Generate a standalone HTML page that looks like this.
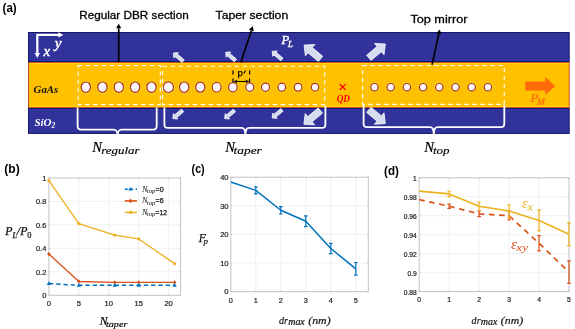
<!DOCTYPE html>
<html><head><meta charset="utf-8"><style>
html,body{margin:0;padding:0;background:#fff;}
svg{display:block;will-change:transform;}
text{font-family:"Liberation Sans", sans-serif;}
.m{font-family:"Liberation Serif", serif;font-style:italic;}
</style></head><body>
<svg width="575" height="329" viewBox="0 0 575 329">

<text x="2.6" y="12.2" font-size="12.8" font-weight="bold" fill="#000" textLength="14.1" lengthAdjust="spacingAndGlyphs">(a)</text>
<rect x="28.5" y="32.5" width="540.7" height="29" fill="#32339a" stroke="#15156a" stroke-width="1"/>
<rect x="28.5" y="108.5" width="540.7" height="24.9" fill="#32339a" stroke="#15156a" stroke-width="1"/>
<rect x="28.4" y="62.4" width="540.8" height="45.2" fill="#ffc000" stroke="#b8281a" stroke-width="0.8"/>
<line x1="29" y1="63.45" x2="568.6" y2="63.45" stroke="#ffd81a" stroke-width="0.9"/>
<line x1="29" y1="106.55" x2="568.6" y2="106.55" stroke="#ffd81a" stroke-width="0.9"/>
<line x1="29" y1="60.4" x2="568.6" y2="60.4" stroke="#2a3ab0" stroke-width="0.8"/>
<line x1="29" y1="109.6" x2="568.6" y2="109.6" stroke="#2a3ab0" stroke-width="0.8"/>
<ellipse cx="85.85" cy="87.20" rx="5.90" ry="6.45" fill="none" stroke="#ffd21a" stroke-width="1"/>
<ellipse cx="85.85" cy="87.20" rx="4.65" ry="5.20" fill="#fbf8ff" stroke="#a83228" stroke-width="1.2"/>
<ellipse cx="102.40" cy="87.20" rx="5.90" ry="6.45" fill="none" stroke="#ffd21a" stroke-width="1"/>
<ellipse cx="102.40" cy="87.20" rx="4.65" ry="5.20" fill="#fbf8ff" stroke="#a83228" stroke-width="1.2"/>
<ellipse cx="118.80" cy="87.20" rx="5.90" ry="6.45" fill="none" stroke="#ffd21a" stroke-width="1"/>
<ellipse cx="118.80" cy="87.20" rx="4.65" ry="5.20" fill="#fbf8ff" stroke="#a83228" stroke-width="1.2"/>
<ellipse cx="135.10" cy="87.20" rx="5.90" ry="6.45" fill="none" stroke="#ffd21a" stroke-width="1"/>
<ellipse cx="135.10" cy="87.20" rx="4.65" ry="5.20" fill="#fbf8ff" stroke="#a83228" stroke-width="1.2"/>
<ellipse cx="151.50" cy="87.20" rx="5.90" ry="6.45" fill="none" stroke="#ffd21a" stroke-width="1"/>
<ellipse cx="151.50" cy="87.20" rx="4.65" ry="5.20" fill="#fbf8ff" stroke="#a83228" stroke-width="1.2"/>
<ellipse cx="168.40" cy="87.20" rx="6.35" ry="6.55" fill="none" stroke="#ffd21a" stroke-width="1"/>
<ellipse cx="168.40" cy="87.20" rx="5.10" ry="5.30" fill="#fbf8ff" stroke="#a83228" stroke-width="1.2"/>
<ellipse cx="184.20" cy="87.20" rx="5.95" ry="6.45" fill="none" stroke="#ffd21a" stroke-width="1"/>
<ellipse cx="184.20" cy="87.20" rx="4.70" ry="5.20" fill="#fbf8ff" stroke="#a83228" stroke-width="1.2"/>
<ellipse cx="200.30" cy="87.20" rx="5.85" ry="6.25" fill="none" stroke="#ffd21a" stroke-width="1"/>
<ellipse cx="200.30" cy="87.20" rx="4.60" ry="5.00" fill="#fbf8ff" stroke="#a83228" stroke-width="1.2"/>
<ellipse cx="216.60" cy="87.20" rx="5.65" ry="6.05" fill="none" stroke="#ffd21a" stroke-width="1"/>
<ellipse cx="216.60" cy="87.20" rx="4.40" ry="4.80" fill="#fbf8ff" stroke="#a83228" stroke-width="1.2"/>
<ellipse cx="232.90" cy="87.20" rx="5.55" ry="5.85" fill="none" stroke="#ffd21a" stroke-width="1"/>
<ellipse cx="232.90" cy="87.20" rx="4.30" ry="4.60" fill="#fbf8ff" stroke="#a83228" stroke-width="1.2"/>
<ellipse cx="249.80" cy="87.20" rx="5.25" ry="5.45" fill="none" stroke="#ffd21a" stroke-width="1"/>
<ellipse cx="249.80" cy="87.20" rx="4.00" ry="4.20" fill="#fbf8ff" stroke="#a83228" stroke-width="1.2"/>
<ellipse cx="265.50" cy="87.20" rx="5.25" ry="5.35" fill="none" stroke="#ffd21a" stroke-width="1"/>
<ellipse cx="265.50" cy="87.20" rx="4.00" ry="4.10" fill="#fbf8ff" stroke="#a83228" stroke-width="1.2"/>
<ellipse cx="281.80" cy="87.20" rx="5.05" ry="5.25" fill="none" stroke="#ffd21a" stroke-width="1"/>
<ellipse cx="281.80" cy="87.20" rx="3.80" ry="4.00" fill="#fbf8ff" stroke="#a83228" stroke-width="1.2"/>
<ellipse cx="298.10" cy="87.20" rx="5.05" ry="5.15" fill="none" stroke="#ffd21a" stroke-width="1"/>
<ellipse cx="298.10" cy="87.20" rx="3.80" ry="3.90" fill="#fbf8ff" stroke="#a83228" stroke-width="1.2"/>
<ellipse cx="315.00" cy="87.20" rx="4.95" ry="5.05" fill="none" stroke="#ffd21a" stroke-width="1"/>
<ellipse cx="315.00" cy="87.20" rx="3.70" ry="3.80" fill="#fbf8ff" stroke="#a83228" stroke-width="1.2"/>
<ellipse cx="374.50" cy="87.20" rx="4.95" ry="4.95" fill="none" stroke="#ffd21a" stroke-width="1"/>
<ellipse cx="374.50" cy="87.20" rx="3.70" ry="3.70" fill="#fbf8ff" stroke="#a83228" stroke-width="1.2"/>
<ellipse cx="390.70" cy="87.20" rx="4.95" ry="4.95" fill="none" stroke="#ffd21a" stroke-width="1"/>
<ellipse cx="390.70" cy="87.20" rx="3.70" ry="3.70" fill="#fbf8ff" stroke="#a83228" stroke-width="1.2"/>
<ellipse cx="406.90" cy="87.20" rx="4.95" ry="4.95" fill="none" stroke="#ffd21a" stroke-width="1"/>
<ellipse cx="406.90" cy="87.20" rx="3.70" ry="3.70" fill="#fbf8ff" stroke="#a83228" stroke-width="1.2"/>
<ellipse cx="423.10" cy="87.20" rx="4.95" ry="4.95" fill="none" stroke="#ffd21a" stroke-width="1"/>
<ellipse cx="423.10" cy="87.20" rx="3.70" ry="3.70" fill="#fbf8ff" stroke="#a83228" stroke-width="1.2"/>
<ellipse cx="439.30" cy="87.20" rx="4.95" ry="4.95" fill="none" stroke="#ffd21a" stroke-width="1"/>
<ellipse cx="439.30" cy="87.20" rx="3.70" ry="3.70" fill="#fbf8ff" stroke="#a83228" stroke-width="1.2"/>
<ellipse cx="455.50" cy="87.20" rx="4.95" ry="4.95" fill="none" stroke="#ffd21a" stroke-width="1"/>
<ellipse cx="455.50" cy="87.20" rx="3.70" ry="3.70" fill="#fbf8ff" stroke="#a83228" stroke-width="1.2"/>
<ellipse cx="471.70" cy="87.20" rx="4.95" ry="4.95" fill="none" stroke="#ffd21a" stroke-width="1"/>
<ellipse cx="471.70" cy="87.20" rx="3.70" ry="3.70" fill="#fbf8ff" stroke="#a83228" stroke-width="1.2"/>
<ellipse cx="487.90" cy="87.20" rx="4.95" ry="4.95" fill="none" stroke="#ffd21a" stroke-width="1"/>
<ellipse cx="487.90" cy="87.20" rx="3.70" ry="3.70" fill="#fbf8ff" stroke="#a83228" stroke-width="1.2"/>
<rect x="78.2" y="65.5" width="82.10000000000001" height="39.099999999999994" fill="none" stroke="#fff" stroke-width="1.1" stroke-dasharray="4.4 3.6"/>
<rect x="162.6" y="66.3" width="162.1" height="38.3" fill="none" stroke="#fff" stroke-width="1.1" stroke-dasharray="4.4 3.6"/>
<rect x="362.6" y="65.5" width="141.59999999999997" height="38.900000000000006" fill="none" stroke="#fff" stroke-width="1.1" stroke-dasharray="4.4 3.6"/>
<path d="M77.6,107.4 L77.6,126.1 Q77.6,129.6 81.1,129.6 L113.6,129.6 C116.39999999999999,129.6 117.6,131.1 117.6,137 M117.6,137 C117.6,131.1 118.8,129.6 121.6,129.6 L153.2,129.6 Q156.7,129.6 156.7,126.1 L156.7,107.4" fill="none" stroke="#fff" stroke-width="1.8"/>
<path d="M164.4,107.4 L164.4,124.4 Q164.4,127.9 167.9,127.9 L241.4,127.9 C244.20000000000002,127.9 245.4,129.4 245.4,137 M245.4,137 C245.4,129.4 246.6,127.9 249.4,127.9 L321.9,127.9 Q325.4,127.9 325.4,124.4 L325.4,106.0" fill="none" stroke="#fff" stroke-width="1.8"/>
<path d="M363.6,104.0 L363.6,123.7 Q363.6,127.2 367.1,127.2 L429.8,127.2 C432.6,127.2 433.8,128.7 433.8,137 M433.8,137 C433.8,128.7 435.0,127.2 437.8,127.2 L500.8,127.2 Q504.3,127.2 504.3,123.7 L504.3,104.8" fill="none" stroke="#fff" stroke-width="1.8"/>
<polygon points="173.40,53.00 178.41,52.63 177.25,54.01 184.22,59.86 182.04,62.47 175.07,56.62 173.91,58.00" fill="#d5dcee" stroke="#fbfcff" stroke-width="0.8" stroke-linejoin="miter"/>
<polygon points="225.70,52.30 230.71,51.93 229.55,53.31 236.52,59.16 234.34,61.77 227.37,55.92 226.21,57.30" fill="#d5dcee" stroke="#fbfcff" stroke-width="0.8" stroke-linejoin="miter"/>
<polygon points="272.20,51.30 277.21,50.93 276.05,52.31 283.02,58.16 280.84,60.77 273.87,54.92 272.71,56.30" fill="#d5dcee" stroke="#fbfcff" stroke-width="0.8" stroke-linejoin="miter"/>
<polygon points="172.90,118.60 173.41,113.60 174.57,114.98 181.54,109.13 183.72,111.74 176.75,117.59 177.91,118.97" fill="#d5dcee" stroke="#fbfcff" stroke-width="0.8" stroke-linejoin="miter"/>
<polygon points="224.70,118.60 225.21,113.60 226.37,114.98 233.34,109.13 235.52,111.74 228.55,117.59 229.71,118.97" fill="#d5dcee" stroke="#fbfcff" stroke-width="0.8" stroke-linejoin="miter"/>
<polygon points="272.20,118.00 272.71,113.00 273.87,114.38 280.84,108.53 283.02,111.14 276.05,116.99 277.21,118.37" fill="#d5dcee" stroke="#fbfcff" stroke-width="0.8" stroke-linejoin="miter"/>
<polygon points="304.10,45.10 314.91,44.51 312.34,47.57 322.76,56.32 318.38,61.52 307.97,52.78 305.40,55.85" fill="#d5dcee" stroke="#fbfcff" stroke-width="0.8" stroke-linejoin="miter"/>
<polygon points="385.30,44.00 384.00,54.75 381.43,51.68 371.02,60.42 366.64,55.22 377.06,46.47 374.49,43.41" fill="#d5dcee" stroke="#fbfcff" stroke-width="0.8" stroke-linejoin="miter"/>
<polygon points="303.90,124.30 305.20,113.55 307.77,116.62 318.18,107.88 322.56,113.08 312.14,121.83 314.71,124.89" fill="#d5dcee" stroke="#fbfcff" stroke-width="0.8" stroke-linejoin="miter"/>
<polygon points="385.30,123.60 374.49,124.19 377.06,121.13 366.64,112.38 371.02,107.18 381.43,115.92 384.00,112.85" fill="#d5dcee" stroke="#fbfcff" stroke-width="0.8" stroke-linejoin="miter"/>
<polygon points="525.2,81.6 545.3,81.6 545.3,76.9 555.3,86.0 545.3,95 545.3,90.6 525.2,90.6" fill="#ff6a0a"/>
<text x="530.6" y="101.5" class="m" font-size="12.8" fill="#ff6a0a" stroke="#ff6a0a" stroke-width="0.2">P</text>
<text x="536.9" y="104.8" class="m" font-size="9.6" fill="#ff6a0a" stroke="#ff6a0a" stroke-width="0.2">M</text>
<path d="M339.8,84.1 L345.5,89.8 M345.5,84.1 L339.8,89.8" stroke="#f00" stroke-width="1.3"/>
<text x="336.7" y="102.0" class="m" font-size="10.4" font-weight="bold" fill="#f00" textLength="13.3" lengthAdjust="spacingAndGlyphs">QD</text>
<text x="33.6" y="93.2" class="m" font-size="10.8" font-weight="bold" fill="#111">GaAs</text>
<text x="34.4" y="126" class="m" font-size="11" font-weight="bold" fill="#fff">SiO<tspan font-size="7.5" dy="2">2</tspan></text>
<path d="M37.3,34.9 L37.3,54 M36.2,34.9 L59,34.9" stroke="#fff" stroke-width="2.2" fill="none"/>
<polygon points="34.6,53.0 40.0,53.0 37.3,58.0" fill="#fff"/>
<polygon points="58.4,32.2 58.4,37.6 63.4,34.9" fill="#fff"/>
<text x="43.6" y="55.7" class="m" font-size="15" fill="#fff" stroke="#fff" stroke-width="0.45">x</text>
<text x="54.8" y="48.2" class="m" font-size="15" fill="#fff" stroke="#fff" stroke-width="0.45">y</text>
<text x="281.4" y="43.6" class="m" font-size="12.6" fill="#fff" stroke="#fff" stroke-width="0.4">P</text>
<text x="288.0" y="46.6" class="m" font-size="8.6" fill="#fff" stroke="#fff" stroke-width="0.35">L</text>
<path d="M233.0,70.6 L233.0,82.5 M249.6,70.6 L249.6,82.5" stroke="#000" stroke-width="1.2" stroke-dasharray="3.8 4.2"/>
<path d="M235.5,81.5 L247.5,81.5" stroke="#000" stroke-width="1"/>
<polygon points="233.6,81.5 237.0,79.8 237.0,83.2" fill="#000"/>
<polygon points="249.2,81.5 245.8,79.8 245.8,83.2" fill="#000"/>
<text x="237.4" y="76.4" font-size="9.6" fill="#000" stroke="#000" stroke-width="0.25">p</text>
<path d="M245.6,70.6 L243.9,73.6" stroke="#000" stroke-width="1.1"/>
<text x="79.2" y="18.6" font-size="11.2" textLength="109.5" lengthAdjust="spacingAndGlyphs" fill="#000" stroke="#000" stroke-width="0.3">Regular DBR section</text>
<text x="215.6" y="19.4" font-size="11.5" textLength="72.6" lengthAdjust="spacingAndGlyphs" fill="#000" stroke="#000" stroke-width="0.3">Taper section</text>
<text x="410.4" y="22.7" font-size="11.7" textLength="57.1" lengthAdjust="spacingAndGlyphs" fill="#000" stroke="#000" stroke-width="0.3">Top mirror</text>
<line x1="118.7" y1="62" x2="118.70" y2="28.30" stroke="#000" stroke-width="1.7"/>
<polygon points="118.70,23.70 121.30,28.30 116.10,28.30" fill="#000"/>
<line x1="240.9" y1="62.3" x2="251.36" y2="30.67" stroke="#000" stroke-width="1.7"/>
<polygon points="252.80,26.30 253.82,31.48 248.89,29.85" fill="#000"/>
<line x1="432.1" y1="64.6" x2="438.82" y2="33.89" stroke="#000" stroke-width="1.7"/>
<polygon points="439.80,29.40 441.36,34.45 436.28,33.34" fill="#000"/>
<text x="92.35000000000001" y="152.4" class="m" font-size="14.6" fill="#000" stroke="#000" stroke-width="0.22">N</text>
<text x="101.3" y="154.20000000000002" class="m" font-size="11.3" fill="#000" textLength="38.3" lengthAdjust="spacingAndGlyphs" stroke="#000" stroke-width="0.18">regular</text>
<text x="225.35" y="152.4" class="m" font-size="14.6" fill="#000" stroke="#000" stroke-width="0.22">N</text>
<text x="233.6" y="154.20000000000002" class="m" font-size="11.3" fill="#000" textLength="28.2" lengthAdjust="spacingAndGlyphs" stroke="#000" stroke-width="0.18">taper</text>
<text x="424.34999999999997" y="152.4" class="m" font-size="14.6" fill="#000" stroke="#000" stroke-width="0.22">N</text>
<text x="433.0" y="154.20000000000002" class="m" font-size="11.3" fill="#000" textLength="16.6" lengthAdjust="spacingAndGlyphs" stroke="#000" stroke-width="0.18">top</text>
<text x="4.3" y="172.9" font-size="12.8" font-weight="bold" fill="#000" textLength="15.4" lengthAdjust="spacingAndGlyphs">(b)</text>
<line x1="78.83" y1="177.9" x2="78.83" y2="295.3" stroke="#eeeeee" stroke-width="0.8"/>
<line x1="108.76" y1="177.9" x2="108.76" y2="295.3" stroke="#eeeeee" stroke-width="0.8"/>
<line x1="138.70" y1="177.9" x2="138.70" y2="295.3" stroke="#eeeeee" stroke-width="0.8"/>
<line x1="168.63" y1="177.9" x2="168.63" y2="295.3" stroke="#eeeeee" stroke-width="0.8"/>
<line x1="48.9" y1="271.82" x2="180.6" y2="271.82" stroke="#eeeeee" stroke-width="0.8"/>
<line x1="48.9" y1="248.34" x2="180.6" y2="248.34" stroke="#eeeeee" stroke-width="0.8"/>
<line x1="48.9" y1="224.86" x2="180.6" y2="224.86" stroke="#eeeeee" stroke-width="0.8"/>
<line x1="48.9" y1="201.38" x2="180.6" y2="201.38" stroke="#eeeeee" stroke-width="0.8"/>
<rect x="48.9" y="177.9" width="131.7" height="117.4" fill="none" stroke="#c4c4c4" stroke-width="1"/>
<line x1="48.90" y1="295.3" x2="48.90" y2="293.8" stroke="#c4c4c4" stroke-width="0.8"/>
<line x1="48.90" y1="177.9" x2="48.90" y2="179.4" stroke="#c4c4c4" stroke-width="0.8"/>
<text x="48.90" y="305.8" font-size="7.6" text-anchor="middle" fill="#262626" stroke="#262626" stroke-width="0.22">0</text>
<line x1="78.83" y1="295.3" x2="78.83" y2="293.8" stroke="#c4c4c4" stroke-width="0.8"/>
<line x1="78.83" y1="177.9" x2="78.83" y2="179.4" stroke="#c4c4c4" stroke-width="0.8"/>
<text x="78.83" y="305.8" font-size="7.6" text-anchor="middle" fill="#262626" stroke="#262626" stroke-width="0.22">5</text>
<line x1="108.76" y1="295.3" x2="108.76" y2="293.8" stroke="#c4c4c4" stroke-width="0.8"/>
<line x1="108.76" y1="177.9" x2="108.76" y2="179.4" stroke="#c4c4c4" stroke-width="0.8"/>
<text x="108.76" y="305.8" font-size="7.6" text-anchor="middle" fill="#262626" stroke="#262626" stroke-width="0.22">10</text>
<line x1="138.70" y1="295.3" x2="138.70" y2="293.8" stroke="#c4c4c4" stroke-width="0.8"/>
<line x1="138.70" y1="177.9" x2="138.70" y2="179.4" stroke="#c4c4c4" stroke-width="0.8"/>
<text x="138.70" y="305.8" font-size="7.6" text-anchor="middle" fill="#262626" stroke="#262626" stroke-width="0.22">15</text>
<line x1="168.63" y1="295.3" x2="168.63" y2="293.8" stroke="#c4c4c4" stroke-width="0.8"/>
<line x1="168.63" y1="177.9" x2="168.63" y2="179.4" stroke="#c4c4c4" stroke-width="0.8"/>
<text x="168.63" y="305.8" font-size="7.6" text-anchor="middle" fill="#262626" stroke="#262626" stroke-width="0.22">20</text>
<line x1="48.9" y1="295.30" x2="50.4" y2="295.30" stroke="#c4c4c4" stroke-width="0.8"/>
<line x1="180.6" y1="295.30" x2="179.1" y2="295.30" stroke="#c4c4c4" stroke-width="0.8"/>
<text x="46.4" y="298.00" font-size="7.5" text-anchor="end" fill="#262626" stroke="#262626" stroke-width="0.22">0</text>
<line x1="48.9" y1="271.82" x2="50.4" y2="271.82" stroke="#c4c4c4" stroke-width="0.8"/>
<line x1="180.6" y1="271.82" x2="179.1" y2="271.82" stroke="#c4c4c4" stroke-width="0.8"/>
<text x="46.4" y="274.52" font-size="7.5" text-anchor="end" fill="#262626" stroke="#262626" stroke-width="0.22">0.2</text>
<line x1="48.9" y1="248.34" x2="50.4" y2="248.34" stroke="#c4c4c4" stroke-width="0.8"/>
<line x1="180.6" y1="248.34" x2="179.1" y2="248.34" stroke="#c4c4c4" stroke-width="0.8"/>
<text x="46.4" y="251.04" font-size="7.5" text-anchor="end" fill="#262626" stroke="#262626" stroke-width="0.22">0.4</text>
<line x1="48.9" y1="224.86" x2="50.4" y2="224.86" stroke="#c4c4c4" stroke-width="0.8"/>
<line x1="180.6" y1="224.86" x2="179.1" y2="224.86" stroke="#c4c4c4" stroke-width="0.8"/>
<text x="46.4" y="227.56" font-size="7.5" text-anchor="end" fill="#262626" stroke="#262626" stroke-width="0.22">0.6</text>
<line x1="48.9" y1="201.38" x2="50.4" y2="201.38" stroke="#c4c4c4" stroke-width="0.8"/>
<line x1="180.6" y1="201.38" x2="179.1" y2="201.38" stroke="#c4c4c4" stroke-width="0.8"/>
<text x="46.4" y="204.08" font-size="7.5" text-anchor="end" fill="#262626" stroke="#262626" stroke-width="0.22">0.8</text>
<line x1="48.9" y1="177.90" x2="50.4" y2="177.90" stroke="#c4c4c4" stroke-width="0.8"/>
<line x1="180.6" y1="177.90" x2="179.1" y2="177.90" stroke="#c4c4c4" stroke-width="0.8"/>
<text x="46.4" y="180.60" font-size="7.5" text-anchor="end" fill="#262626" stroke="#262626" stroke-width="0.22">1</text>
<polyline points="48.90,180.72 78.83,223.69 114.75,235.07 138.70,238.95 174.61,263.60" fill="none" stroke="#edb120" stroke-width="1.35" stroke-linejoin="round"/>
<circle cx="48.90" cy="180.72" r="1.6" fill="#edb120"/>
<circle cx="78.83" cy="223.69" r="1.6" fill="#edb120"/>
<circle cx="114.75" cy="235.07" r="1.6" fill="#edb120"/>
<circle cx="138.70" cy="238.95" r="1.6" fill="#edb120"/>
<circle cx="174.61" cy="263.60" r="1.6" fill="#edb120"/>
<polyline points="48.90,254.09 78.83,281.45 114.75,282.39 138.70,282.39 174.61,282.39" fill="none" stroke="#d95319" stroke-width="1.4" stroke-linejoin="round"/>
<polygon points="48.90,251.89 50.70,254.09 48.90,256.29 47.10,254.09" fill="#d95319"/>
<polygon points="78.83,279.25 80.63,281.45 78.83,283.65 77.03,281.45" fill="#d95319"/>
<polygon points="114.75,280.19 116.55,282.39 114.75,284.59 112.95,282.39" fill="#d95319"/>
<polygon points="138.70,280.19 140.50,282.39 138.70,284.59 136.90,282.39" fill="#d95319"/>
<polygon points="174.61,280.19 176.41,282.39 174.61,284.59 172.81,282.39" fill="#d95319"/>
<polyline points="48.90,283.56 78.83,285.32 114.75,285.32 138.70,285.32 174.61,285.32" fill="none" stroke="#0072bd" stroke-width="1.45" stroke-dasharray="4.4 2.9" stroke-linejoin="round"/>
<polygon points="48.90,281.36 51.10,284.96 46.70,284.96" fill="#0072bd"/>
<polygon points="78.83,283.12 81.03,286.72 76.63,286.72" fill="#0072bd"/>
<polygon points="114.75,283.12 116.95,286.72 112.55,286.72" fill="#0072bd"/>
<polygon points="138.70,283.12 140.90,286.72 136.50,286.72" fill="#0072bd"/>
<polygon points="174.61,283.12 176.81,286.72 172.41,286.72" fill="#0072bd"/>
<line x1="124.5" y1="201.38" x2="168" y2="201.38" stroke="#fff" stroke-width="1.2"/>
<line x1="138.70" y1="196" x2="138.70" y2="207" stroke="#eeeeee" stroke-width="0.8"/>
<line x1="124.8" y1="189.2" x2="137" y2="189.2" stroke="#0072bd" stroke-width="1.5" stroke-dasharray="3 2.4"/>
<polygon points="130.4,186.89999999999998 132.7,190.5 128.1,190.5" fill="#0072bd"/>
<text x="141.9" y="191.50" class="m" font-size="8.3" fill="#111">N</text>
<text x="146.8" y="193.10" class="m" font-size="6.6" fill="#111" textLength="8.6" lengthAdjust="spacingAndGlyphs">top</text>
<text x="155.6" y="191.50" font-size="7.6" fill="#111" stroke="#111" stroke-width="0.25" textLength="8.0" lengthAdjust="spacingAndGlyphs">=0</text>
<line x1="124.8" y1="200.9" x2="137" y2="200.9" stroke="#d95319" stroke-width="1.6"/>
<polygon points="130.6,198.6 132.5,200.9 130.6,203.20000000000002 128.7,200.9" fill="#d95319"/>
<text x="141.9" y="203.20" class="m" font-size="8.3" fill="#111">N</text>
<text x="146.8" y="204.80" class="m" font-size="6.6" fill="#111" textLength="8.6" lengthAdjust="spacingAndGlyphs">top</text>
<text x="155.6" y="203.20" font-size="7.6" fill="#111" stroke="#111" stroke-width="0.25" textLength="8.0" lengthAdjust="spacingAndGlyphs">=6</text>
<line x1="124.8" y1="212.4" x2="137" y2="212.4" stroke="#edb120" stroke-width="1.5"/>
<circle cx="130.6" cy="212.4" r="1.7" fill="#edb120"/>
<text x="141.9" y="214.70" class="m" font-size="8.3" fill="#111">N</text>
<text x="146.8" y="216.30" class="m" font-size="6.6" fill="#111" textLength="8.6" lengthAdjust="spacingAndGlyphs">top</text>
<text x="155.6" y="214.70" font-size="7.6" fill="#111" stroke="#111" stroke-width="0.25" textLength="11.4" lengthAdjust="spacingAndGlyphs">=12</text>
<text x="5.2" y="235.2" class="m" font-size="11.8" fill="#111" stroke="#111" stroke-width="0.25">P<tspan font-size="8" dy="2.4">L</tspan><tspan dy="-2.4">/P</tspan><tspan font-size="8.4" dy="2.4" style="font-style:normal">0</tspan></text>
<text x="99.65" y="324.9" class="m" font-size="11.6" fill="#000" stroke="#000" stroke-width="0.22">N</text>
<text x="105.9" y="326.5" class="m" font-size="9.2" fill="#000" textLength="21.6" lengthAdjust="spacingAndGlyphs" stroke="#000" stroke-width="0.18">taper</text>
<text x="191.6" y="172.9" font-size="12.8" font-weight="bold" fill="#000" textLength="13.1" lengthAdjust="spacingAndGlyphs">(c)</text>
<line x1="255.80" y1="177.2" x2="255.80" y2="291.7" stroke="#eeeeee" stroke-width="0.8"/>
<line x1="280.80" y1="177.2" x2="280.80" y2="291.7" stroke="#eeeeee" stroke-width="0.8"/>
<line x1="305.80" y1="177.2" x2="305.80" y2="291.7" stroke="#eeeeee" stroke-width="0.8"/>
<line x1="330.80" y1="177.2" x2="330.80" y2="291.7" stroke="#eeeeee" stroke-width="0.8"/>
<line x1="355.80" y1="177.2" x2="355.80" y2="291.7" stroke="#eeeeee" stroke-width="0.8"/>
<line x1="230.8" y1="263.07" x2="368.3" y2="263.07" stroke="#eeeeee" stroke-width="0.8"/>
<line x1="230.8" y1="234.45" x2="368.3" y2="234.45" stroke="#eeeeee" stroke-width="0.8"/>
<line x1="230.8" y1="205.82" x2="368.3" y2="205.82" stroke="#eeeeee" stroke-width="0.8"/>
<rect x="230.8" y="177.2" width="137.5" height="114.5" fill="none" stroke="#c4c4c4" stroke-width="1"/>
<line x1="230.80" y1="291.7" x2="230.80" y2="290.2" stroke="#c4c4c4" stroke-width="0.8"/>
<line x1="230.80" y1="177.2" x2="230.80" y2="178.7" stroke="#c4c4c4" stroke-width="0.8"/>
<text x="230.80" y="302.6" font-size="7.3" text-anchor="middle" fill="#262626" stroke="#262626" stroke-width="0.22">0</text>
<line x1="255.80" y1="291.7" x2="255.80" y2="290.2" stroke="#c4c4c4" stroke-width="0.8"/>
<line x1="255.80" y1="177.2" x2="255.80" y2="178.7" stroke="#c4c4c4" stroke-width="0.8"/>
<text x="255.80" y="302.6" font-size="7.3" text-anchor="middle" fill="#262626" stroke="#262626" stroke-width="0.22">1</text>
<line x1="280.80" y1="291.7" x2="280.80" y2="290.2" stroke="#c4c4c4" stroke-width="0.8"/>
<line x1="280.80" y1="177.2" x2="280.80" y2="178.7" stroke="#c4c4c4" stroke-width="0.8"/>
<text x="280.80" y="302.6" font-size="7.3" text-anchor="middle" fill="#262626" stroke="#262626" stroke-width="0.22">2</text>
<line x1="305.80" y1="291.7" x2="305.80" y2="290.2" stroke="#c4c4c4" stroke-width="0.8"/>
<line x1="305.80" y1="177.2" x2="305.80" y2="178.7" stroke="#c4c4c4" stroke-width="0.8"/>
<text x="305.80" y="302.6" font-size="7.3" text-anchor="middle" fill="#262626" stroke="#262626" stroke-width="0.22">3</text>
<line x1="330.80" y1="291.7" x2="330.80" y2="290.2" stroke="#c4c4c4" stroke-width="0.8"/>
<line x1="330.80" y1="177.2" x2="330.80" y2="178.7" stroke="#c4c4c4" stroke-width="0.8"/>
<text x="330.80" y="302.6" font-size="7.3" text-anchor="middle" fill="#262626" stroke="#262626" stroke-width="0.22">4</text>
<line x1="355.80" y1="291.7" x2="355.80" y2="290.2" stroke="#c4c4c4" stroke-width="0.8"/>
<line x1="355.80" y1="177.2" x2="355.80" y2="178.7" stroke="#c4c4c4" stroke-width="0.8"/>
<text x="355.80" y="302.6" font-size="7.3" text-anchor="middle" fill="#262626" stroke="#262626" stroke-width="0.22">5</text>
<line x1="230.8" y1="291.70" x2="232.3" y2="291.70" stroke="#c4c4c4" stroke-width="0.8"/>
<line x1="368.3" y1="291.70" x2="366.8" y2="291.70" stroke="#c4c4c4" stroke-width="0.8"/>
<text x="228.6" y="294.44" font-size="7.6" text-anchor="end" fill="#262626" stroke="#262626" stroke-width="0.22">0</text>
<line x1="230.8" y1="263.07" x2="232.3" y2="263.07" stroke="#c4c4c4" stroke-width="0.8"/>
<line x1="368.3" y1="263.07" x2="366.8" y2="263.07" stroke="#c4c4c4" stroke-width="0.8"/>
<text x="228.6" y="265.81" font-size="7.6" text-anchor="end" fill="#262626" stroke="#262626" stroke-width="0.22">10</text>
<line x1="230.8" y1="234.45" x2="232.3" y2="234.45" stroke="#c4c4c4" stroke-width="0.8"/>
<line x1="368.3" y1="234.45" x2="366.8" y2="234.45" stroke="#c4c4c4" stroke-width="0.8"/>
<text x="228.6" y="237.19" font-size="7.6" text-anchor="end" fill="#262626" stroke="#262626" stroke-width="0.22">20</text>
<line x1="230.8" y1="205.82" x2="232.3" y2="205.82" stroke="#c4c4c4" stroke-width="0.8"/>
<line x1="368.3" y1="205.82" x2="366.8" y2="205.82" stroke="#c4c4c4" stroke-width="0.8"/>
<text x="228.6" y="208.56" font-size="7.6" text-anchor="end" fill="#262626" stroke="#262626" stroke-width="0.22">30</text>
<line x1="230.8" y1="177.20" x2="232.3" y2="177.20" stroke="#c4c4c4" stroke-width="0.8"/>
<line x1="368.3" y1="177.20" x2="366.8" y2="177.20" stroke="#c4c4c4" stroke-width="0.8"/>
<text x="228.6" y="179.94" font-size="7.6" text-anchor="end" fill="#262626" stroke="#262626" stroke-width="0.22">40</text>
<polyline points="230.80,182.07 255.80,190.37 280.80,210.26 305.80,221.28 330.80,248.48 355.80,268.80" fill="none" stroke="#0072bd" stroke-width="1.5" stroke-linejoin="round"/>
<path d="M255.80,193.80 L255.80,186.93 M254.00,193.80 L257.60,193.80 M254.00,186.93 L257.60,186.93" stroke="#0072bd" stroke-width="1.2" fill="none"/>
<path d="M280.80,213.98 L280.80,206.54 M279.00,213.98 L282.60,213.98 M279.00,206.54 L282.60,206.54" stroke="#0072bd" stroke-width="1.2" fill="none"/>
<path d="M305.80,226.72 L305.80,215.84 M304.00,226.72 L307.60,226.72 M304.00,215.84 L307.60,215.84" stroke="#0072bd" stroke-width="1.2" fill="none"/>
<path d="M330.80,253.63 L330.80,243.32 M329.00,253.63 L332.60,253.63 M329.00,243.32 L332.60,243.32" stroke="#0072bd" stroke-width="1.2" fill="none"/>
<path d="M355.80,275.10 L355.80,262.50 M354.00,275.10 L357.60,275.10 M354.00,262.50 L357.60,262.50" stroke="#0072bd" stroke-width="1.2" fill="none"/>
<text x="198.8" y="242.0" class="m" font-size="11.6" fill="#111" stroke="#111" stroke-width="0.25">F</text>
<text x="203.4" y="243.6" class="m" font-size="8.8" fill="#111" stroke="#111" stroke-width="0.2">p</text>
<text x="279.0" y="323.6" class="m" font-size="10.8" fill="#111" textLength="9.0" lengthAdjust="spacingAndGlyphs" stroke="#111" stroke-width="0.2">dr</text>
<text x="288.2" y="324.8" class="m" font-size="9.6" fill="#111" textLength="16.6" lengthAdjust="spacingAndGlyphs" stroke="#111" stroke-width="0.2">max</text>
<text x="308.2" y="323.6" class="m" font-size="10.8" fill="#111" textLength="22.4" lengthAdjust="spacingAndGlyphs" stroke="#111" stroke-width="0.2">(nm)</text>
<text x="384.1" y="174.7" font-size="12.8" font-weight="bold" fill="#000" textLength="14.8" lengthAdjust="spacingAndGlyphs">(d)</text>
<line x1="449.16" y1="177.8" x2="449.16" y2="291.6" stroke="#eeeeee" stroke-width="0.8"/>
<line x1="479.12" y1="177.8" x2="479.12" y2="291.6" stroke="#eeeeee" stroke-width="0.8"/>
<line x1="509.08" y1="177.8" x2="509.08" y2="291.6" stroke="#eeeeee" stroke-width="0.8"/>
<line x1="539.04" y1="177.8" x2="539.04" y2="291.6" stroke="#eeeeee" stroke-width="0.8"/>
<line x1="419.2" y1="272.63" x2="569.0" y2="272.63" stroke="#eeeeee" stroke-width="0.8"/>
<line x1="419.2" y1="253.67" x2="569.0" y2="253.67" stroke="#eeeeee" stroke-width="0.8"/>
<line x1="419.2" y1="234.70" x2="569.0" y2="234.70" stroke="#eeeeee" stroke-width="0.8"/>
<line x1="419.2" y1="215.73" x2="569.0" y2="215.73" stroke="#eeeeee" stroke-width="0.8"/>
<line x1="419.2" y1="196.77" x2="569.0" y2="196.77" stroke="#eeeeee" stroke-width="0.8"/>
<rect x="419.2" y="177.8" width="149.8" height="113.80000000000001" fill="none" stroke="#c4c4c4" stroke-width="1"/>
<line x1="419.20" y1="291.6" x2="419.20" y2="290.1" stroke="#c4c4c4" stroke-width="0.8"/>
<line x1="419.20" y1="177.8" x2="419.20" y2="179.3" stroke="#c4c4c4" stroke-width="0.8"/>
<text x="419.20" y="302.2" font-size="6.8" text-anchor="middle" fill="#262626" stroke="#262626" stroke-width="0.22">0</text>
<line x1="449.16" y1="291.6" x2="449.16" y2="290.1" stroke="#c4c4c4" stroke-width="0.8"/>
<line x1="449.16" y1="177.8" x2="449.16" y2="179.3" stroke="#c4c4c4" stroke-width="0.8"/>
<text x="449.16" y="302.2" font-size="6.8" text-anchor="middle" fill="#262626" stroke="#262626" stroke-width="0.22">1</text>
<line x1="479.12" y1="291.6" x2="479.12" y2="290.1" stroke="#c4c4c4" stroke-width="0.8"/>
<line x1="479.12" y1="177.8" x2="479.12" y2="179.3" stroke="#c4c4c4" stroke-width="0.8"/>
<text x="479.12" y="302.2" font-size="6.8" text-anchor="middle" fill="#262626" stroke="#262626" stroke-width="0.22">2</text>
<line x1="509.08" y1="291.6" x2="509.08" y2="290.1" stroke="#c4c4c4" stroke-width="0.8"/>
<line x1="509.08" y1="177.8" x2="509.08" y2="179.3" stroke="#c4c4c4" stroke-width="0.8"/>
<text x="509.08" y="302.2" font-size="6.8" text-anchor="middle" fill="#262626" stroke="#262626" stroke-width="0.22">3</text>
<line x1="539.04" y1="291.6" x2="539.04" y2="290.1" stroke="#c4c4c4" stroke-width="0.8"/>
<line x1="539.04" y1="177.8" x2="539.04" y2="179.3" stroke="#c4c4c4" stroke-width="0.8"/>
<text x="539.04" y="302.2" font-size="6.8" text-anchor="middle" fill="#262626" stroke="#262626" stroke-width="0.22">4</text>
<line x1="569.00" y1="291.6" x2="569.00" y2="290.1" stroke="#c4c4c4" stroke-width="0.8"/>
<line x1="569.00" y1="177.8" x2="569.00" y2="179.3" stroke="#c4c4c4" stroke-width="0.8"/>
<text x="569.00" y="302.2" font-size="6.8" text-anchor="middle" fill="#262626" stroke="#262626" stroke-width="0.22">5</text>
<line x1="419.2" y1="291.60" x2="420.7" y2="291.60" stroke="#c4c4c4" stroke-width="0.8"/>
<line x1="569.0" y1="291.60" x2="567.5" y2="291.60" stroke="#c4c4c4" stroke-width="0.8"/>
<text x="416.8" y="294.62" font-size="6.7" text-anchor="end" fill="#262626" stroke="#262626" stroke-width="0.22">0.88</text>
<line x1="419.2" y1="272.63" x2="420.7" y2="272.63" stroke="#c4c4c4" stroke-width="0.8"/>
<line x1="569.0" y1="272.63" x2="567.5" y2="272.63" stroke="#c4c4c4" stroke-width="0.8"/>
<text x="416.8" y="275.65" font-size="6.7" text-anchor="end" fill="#262626" stroke="#262626" stroke-width="0.22">0.9</text>
<line x1="419.2" y1="253.67" x2="420.7" y2="253.67" stroke="#c4c4c4" stroke-width="0.8"/>
<line x1="569.0" y1="253.67" x2="567.5" y2="253.67" stroke="#c4c4c4" stroke-width="0.8"/>
<text x="416.8" y="256.68" font-size="6.7" text-anchor="end" fill="#262626" stroke="#262626" stroke-width="0.22">0.92</text>
<line x1="419.2" y1="234.70" x2="420.7" y2="234.70" stroke="#c4c4c4" stroke-width="0.8"/>
<line x1="569.0" y1="234.70" x2="567.5" y2="234.70" stroke="#c4c4c4" stroke-width="0.8"/>
<text x="416.8" y="237.72" font-size="6.7" text-anchor="end" fill="#262626" stroke="#262626" stroke-width="0.22">0.94</text>
<line x1="419.2" y1="215.73" x2="420.7" y2="215.73" stroke="#c4c4c4" stroke-width="0.8"/>
<line x1="569.0" y1="215.73" x2="567.5" y2="215.73" stroke="#c4c4c4" stroke-width="0.8"/>
<text x="416.8" y="218.75" font-size="6.7" text-anchor="end" fill="#262626" stroke="#262626" stroke-width="0.22">0.96</text>
<line x1="419.2" y1="196.77" x2="420.7" y2="196.77" stroke="#c4c4c4" stroke-width="0.8"/>
<line x1="569.0" y1="196.77" x2="567.5" y2="196.77" stroke="#c4c4c4" stroke-width="0.8"/>
<text x="416.8" y="199.78" font-size="6.7" text-anchor="end" fill="#262626" stroke="#262626" stroke-width="0.22">0.98</text>
<line x1="419.2" y1="177.80" x2="420.7" y2="177.80" stroke="#c4c4c4" stroke-width="0.8"/>
<line x1="569.0" y1="177.80" x2="567.5" y2="177.80" stroke="#c4c4c4" stroke-width="0.8"/>
<text x="416.8" y="180.81" font-size="6.7" text-anchor="end" fill="#262626" stroke="#262626" stroke-width="0.22">1</text>
<polyline points="419.20,199.61 449.16,206.25 479.12,213.84 509.08,215.73 539.04,243.23 569.00,272.16" fill="none" stroke="#d95319" stroke-width="1.7" stroke-dasharray="5.6 4.6" stroke-linejoin="round"/>
<path d="M449.16,208.34 L449.16,204.16 M447.36,208.34 L450.96,208.34 M447.36,204.16 L450.96,204.16" stroke="#d95319" stroke-width="1.2" fill="none"/>
<path d="M479.12,216.68 L479.12,210.99 M477.32,216.68 L480.92,216.68 M477.32,210.99 L480.92,210.99" stroke="#d95319" stroke-width="1.2" fill="none"/>
<path d="M509.08,220.00 L509.08,211.47 M507.28,220.00 L510.88,220.00 M507.28,211.47 L510.88,211.47" stroke="#d95319" stroke-width="1.2" fill="none"/>
<path d="M539.04,250.82 L539.04,235.65 M537.24,250.82 L540.84,250.82 M537.24,235.65 L540.84,235.65" stroke="#d95319" stroke-width="1.2" fill="none"/>
<path d="M569.00,283.35 L569.00,260.97 M567.20,283.35 L570.80,283.35 M567.20,260.97 L570.80,260.97" stroke="#d95319" stroke-width="1.2" fill="none"/>
<polyline points="419.20,191.08 449.16,193.92 479.12,206.25 509.08,210.99 539.04,220.48 569.00,234.23" fill="none" stroke="#edb120" stroke-width="1.6" stroke-linejoin="round"/>
<path d="M449.16,196.58 L449.16,191.27 M447.36,196.58 L450.96,196.58 M447.36,191.27 L450.96,191.27" stroke="#edb120" stroke-width="1.2" fill="none"/>
<path d="M479.12,210.52 L479.12,201.98 M477.32,210.52 L480.92,210.52 M477.32,201.98 L480.92,201.98" stroke="#edb120" stroke-width="1.2" fill="none"/>
<path d="M509.08,217.25 L509.08,204.73 M507.28,217.25 L510.88,217.25 M507.28,204.73 L510.88,204.73" stroke="#edb120" stroke-width="1.2" fill="none"/>
<path d="M539.04,230.91 L539.04,210.04 M537.24,230.91 L540.84,230.91 M537.24,210.04 L540.84,210.04" stroke="#edb120" stroke-width="1.2" fill="none"/>
<path d="M569.00,245.61 L569.00,222.85 M567.20,245.61 L570.80,245.61 M567.20,222.85 L570.80,222.85" stroke="#edb120" stroke-width="1.2" fill="none"/>
<text x="522.0" y="207.8" class="m" font-size="15.2" fill="#edb120">ε</text>
<text x="527.6" y="210.5" class="m" font-size="12.2" fill="#edb120">x</text>
<text x="510.9" y="249.4" class="m" font-size="15.0" fill="#d95319">ε</text>
<text x="516.3" y="251.3" class="m" font-size="10.8" fill="#d95319" textLength="11.9" lengthAdjust="spacingAndGlyphs">xy</text>
<text x="471.6" y="323.6" class="m" font-size="10.8" fill="#111" textLength="9.0" lengthAdjust="spacingAndGlyphs" stroke="#111" stroke-width="0.2">dr</text>
<text x="480.8" y="324.8" class="m" font-size="9.6" fill="#111" textLength="16.6" lengthAdjust="spacingAndGlyphs" stroke="#111" stroke-width="0.2">max</text>
<text x="500.8" y="323.6" class="m" font-size="10.8" fill="#111" textLength="22.4" lengthAdjust="spacingAndGlyphs" stroke="#111" stroke-width="0.2">(nm)</text>
</svg></body></html>
